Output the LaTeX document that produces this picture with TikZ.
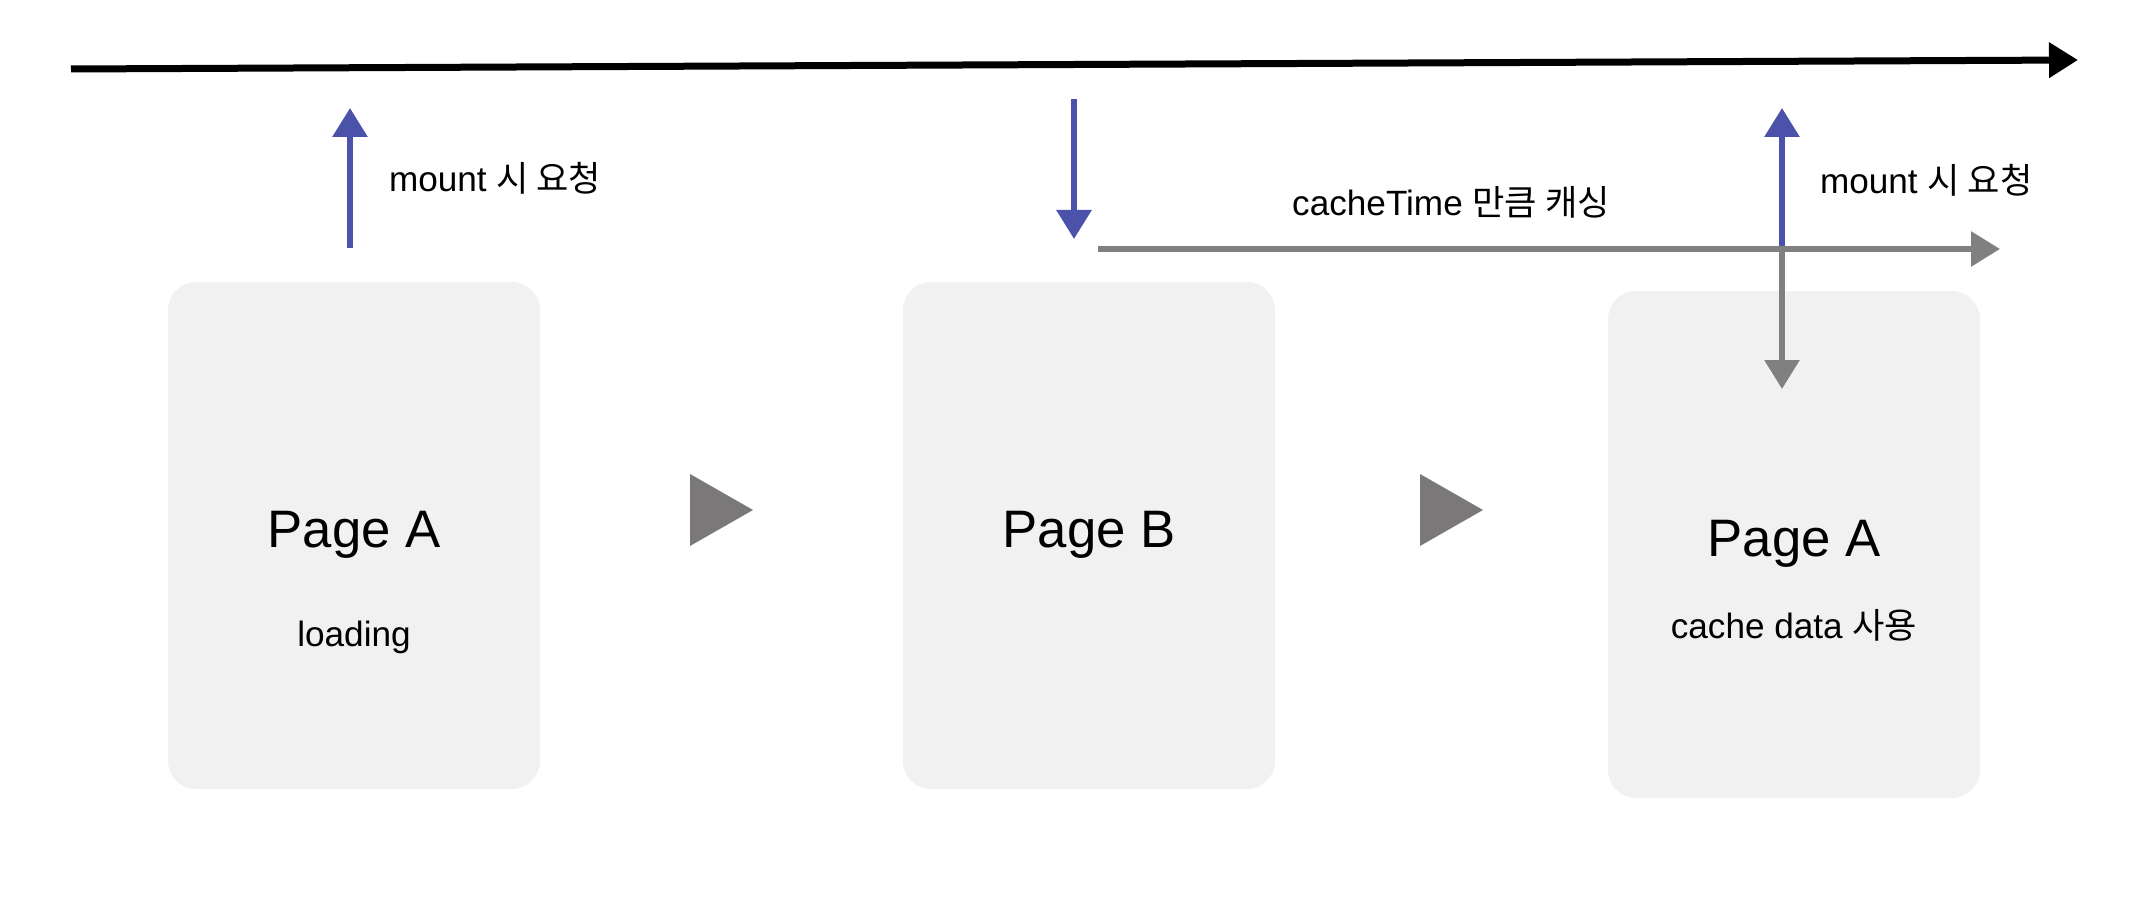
\documentclass[tikz,border=0pt]{standalone}
\usepackage{fontspec}
\setmainfont{Liberation Sans}
\newfontfamily\kr{Noto Sans CJK KR}
\usetikzlibrary{arrows.meta,positioning}
\definecolor{reqblue}{HTML}{4A52AA}
\definecolor{cachegray}{HTML}{808080}
\definecolor{pagefill}{HTML}{F1F1F1}
\definecolor{stepgray}{HTML}{7A7878}
\tikzset{
  pagebox/.style={fill=pagefill,rounded corners=2.8mm,minimum width=37.2mm,
    minimum height=50.7mm,inner sep=0pt},
  pagetitle/.style={font=\fontsize{15}{18}\selectfont,inner sep=0pt},
  pagenote/.style={inner sep=0pt},
  reqarrow/.style={->,draw=reqblue},
  cachearrow/.style={->,draw=cachegray},
}
\begin{document}
\begin{tikzpicture}[x=.1mm,y=-.1mm,line width=.6mm,
 >={Triangle[length=2.9mm,width=3.4mm]},font=\fontsize{10}{12}\selectfont]
\useasboundingbox (0,0) rectangle (2145,900);
% time line
\coordinate (t0) at (71,69);
\coordinate (t1) at (2078,60);
\draw[->,line width=.7mm] (t0) -- (t1);
% pages
\node[pagebox] (pageA) at (354,535.5) {};
\node[pagebox] (pageB) at (1089,535.5) {};
\node[pagebox] (pageA2) at (1794,544.5) {};
\node[pagetitle] (titleA) at (354,535) {Page A};
\node[pagenote] (noteA) at (354,637) {loading};
\node[pagetitle] (titleB) at (1089,535) {Page B};
\node[pagetitle] (titleA2) at (1794,544) {Page A};
\node[pagenote] (noteA2) at (1794,625) {cache data {\kr 사용}};
% steps
\foreach \x in {690,1420}
  \fill[stepgray] (\x,474) -- (\x+63,510) -- (\x,546) -- cycle;
% requests
\coordinate (req1s) at (350,248);
\coordinate (req1e) at (350,108);
\coordinate (leaveS) at (1074,99);
\coordinate (leaveE) at (1074,239);
\coordinate (req2s) at (1782,249);
\coordinate (req2e) at (1782,108);
\draw[reqarrow] (req1s) -- (req1e);
\draw[reqarrow] (leaveS) -- (leaveE);
\draw[reqarrow] (req2s) -- (req2e);
\node[anchor=west,inner sep=0pt] (lblReq1) at (386,178) {mount {\kr 시 요청}};
\node[anchor=west,inner sep=0pt] (lblReq2) at (1817,180) {mount {\kr 시 요청}};
% cache time
\coordinate (cacheS) at (1098,249);
\coordinate (cacheE) at (2000,249);
\coordinate (hitE) at (1782,389);
\draw[cachearrow] (cacheS) -- (cacheE);
\draw[cachearrow] (req2s) -- (hitE);
\node[inner sep=0pt] (lblCache) at (1451,202) {cacheTime {\kr 만큼 캐싱}};
\end{tikzpicture}
\end{document}
